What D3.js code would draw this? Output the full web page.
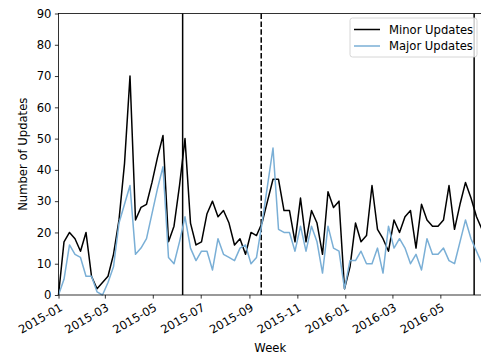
<!DOCTYPE html>
<html>
<head>
<meta charset="utf-8">
<script src="https://cdn.jsdelivr.net/npm/d3@7"></script>
<style>
    body { margin: 0; background: #fff; }
    text { font-family: "DejaVu Sans", sans-serif; }
</style>
</head>
<body>
<div id="my_dataviz"></div>
<script>
// weekly counts, first week 2015-01-01
const startWeek = "2015-01-01";
const minorUpdates = [0, 17, 20, 18, 14, 20, 6, 2, 4, 6, 13, 24, 42, 70, 24, 28, 29, 36, 44, 51,
    17, 22, 35, 50, 23, 16, 17, 26, 30, 25, 27, 23, 16, 18, 13, 20, 19, 23, 30, 37,
    37, 27, 27, 17, 31, 17, 27, 23, 13, 33, 28, 30, 2, 9, 23, 17, 19, 35, 21, 18,
    14, 24, 20, 25, 27, 15, 29, 24, 22, 22, 24, 35, 21, 29, 36, 31, 25, 21];
const majorUpdates = [0, 5, 16, 13, 12, 6, 6, 1, 0, 4, 9, 23, 29, 35, 13, 15, 18, 26, 34, 41,
    12, 10, 17, 25, 15, 11, 14, 14, 8, 18, 13, 12, 11, 15, 16, 10, 12, 23, 35, 47,
    21, 20, 20, 14, 22, 14, 22, 17, 7, 22, 15, 14, 2, 11, 11, 14, 10, 10, 15, 7,
    22, 15, 18, 15, 10, 13, 8, 18, 13, 13, 15, 11, 10, 17, 24, 18, 14, 10];
const xTicks = ["2015-01", "2015-03", "2015-05", "2015-07", "2015-09", "2015-11", "2016-01", "2016-03", "2016-05"];
const yTicks = [0, 10, 20, 30, 40, 50, 60, 70, 80, 90];
const releases = ["2015-06-08", "2015-09-16", "2016-06-13"];
const releaseDashed = [false, true, false];
const seriesNames = ["Minor Updates", "Major Updates"];
const seriesColors = ["#000000", "#7aafd6"];

const parseDay = d3.utcParse("%Y-%m-%d");
const parseMonth = d3.utcParse("%Y-%m");
const t0 = parseDay(startWeek);
const weeks = minorUpdates.map((d, i) => d3.utcDay.offset(t0, 7 * i));

const margin = {top: 13.5, right: -1, bottom: 61, left: 58.5},
    width = 481 - margin.left - margin.right,
    height = 356 - margin.top - margin.bottom;
const fs = 11.6;

const svg = d3.select("#my_dataviz")
    .append("svg")
    .attr("width", 481)
    .attr("height", 356)
    .style("display", "block")
    .append("g")
    .attr("transform", `translate(${margin.left},${margin.top})`);

const xx = d3.scaleUtc()
    .domain([weeks[0], weeks[weeks.length - 1]])
    .range([0, width]);

const yy = d3.scaleLinear()
    .domain([0, 90])
    .range([height, 0]);

// release markers
releases.forEach(function (r, i) {
    svg.append("line")
        .attr("x1", xx(parseDay(r)))
        .attr("x2", xx(parseDay(r)))
        .attr("y1", 0)
        .attr("y2", height)
        .attr("stroke", "black")
        .attr("stroke-width", 1.5)
        .style("stroke-dasharray", releaseDashed[i] ? "5.5, 2.4" : null);
});

// lines
[minorUpdates, majorUpdates].forEach(function (vals, k) {
    svg.append("path")
        .datum(vals)
        .attr("fill", "none")
        .attr("stroke", seriesColors[k])
        .attr("stroke-width", 1.5)
        .attr("stroke-linejoin", "round")
        .attr("d", d3.line()
            .x(function (d, i) { return xx(weeks[i]) })
            .y(function (d) { return yy(d) })
        );
});

// X axis
const xAxis = svg.append("g")
    .attr("transform", `translate(0, ${height})`)
    .call(d3.axisBottom(xx)
        .tickValues(xTicks.map(parseMonth))
        .tickFormat(d3.utcFormat("%Y-%m"))
        .tickSize(3.6)
        .tickSizeOuter(0));
xAxis.selectAll("text")
    .attr("x", 0)
    .attr("y", 0)
    .attr("dy", "0.76em")
    .style("text-anchor", "end")
    .attr("transform", "translate(0, 7.2) rotate(-30)");

// Y axis
const yAxis = svg.append("g")
    .call(d3.axisLeft(yy)
        .tickValues(yTicks)
        .tickSize(3.6)
        .tickPadding(3.5)
        .tickSizeOuter(0));

[xAxis, yAxis].forEach(function (a) {
    a.selectAll("text").style("font-size", fs).style("fill", "black");
    a.selectAll("line").attr("stroke", "black").attr("stroke-width", 0.8);
    a.select(".domain").remove();
});

// spines
svg.append("rect")
    .attr("x", 0).attr("y", 0)
    .attr("width", width).attr("height", height)
    .attr("fill", "none")
    .attr("stroke", "black")
    .attr("stroke-width", 0.8);

svg.append("text").attr("x", width / 2).attr("y", height + 57).text("Week")
    .style("font-size", fs).style("text-anchor", "middle");
svg.append("text").attr("x", -height / 2).attr("y", -31.5).text("Number of Updates")
    .style("font-size", fs).style("text-anchor", "middle")
    .attr("transform", "rotate(-90)");

// legend
const lg = svg.append("g").attr("transform", `translate(${350 - margin.left},${18 - margin.top})`);
lg.append("rect")
    .attr("width", 127).attr("height", 39)
    .attr("rx", 2.5)
    .attr("fill", "white").attr("fill-opacity", 0.8)
    .attr("stroke", "#cccccc").attr("stroke-width", 0.8);
seriesNames.forEach(function (name, i) {
    const cy = 11.5 + i * 16.5;
    lg.append("line")
        .attr("x1", 4).attr("x2", 30)
        .attr("y1", cy).attr("y2", cy)
        .attr("stroke", seriesColors[i]).attr("stroke-width", 1.5);
    lg.append("text").attr("x", 39).attr("y", cy).attr("dy", "0.35em")
        .text(name).style("font-size", fs);
});
</script>
</body>
</html>
